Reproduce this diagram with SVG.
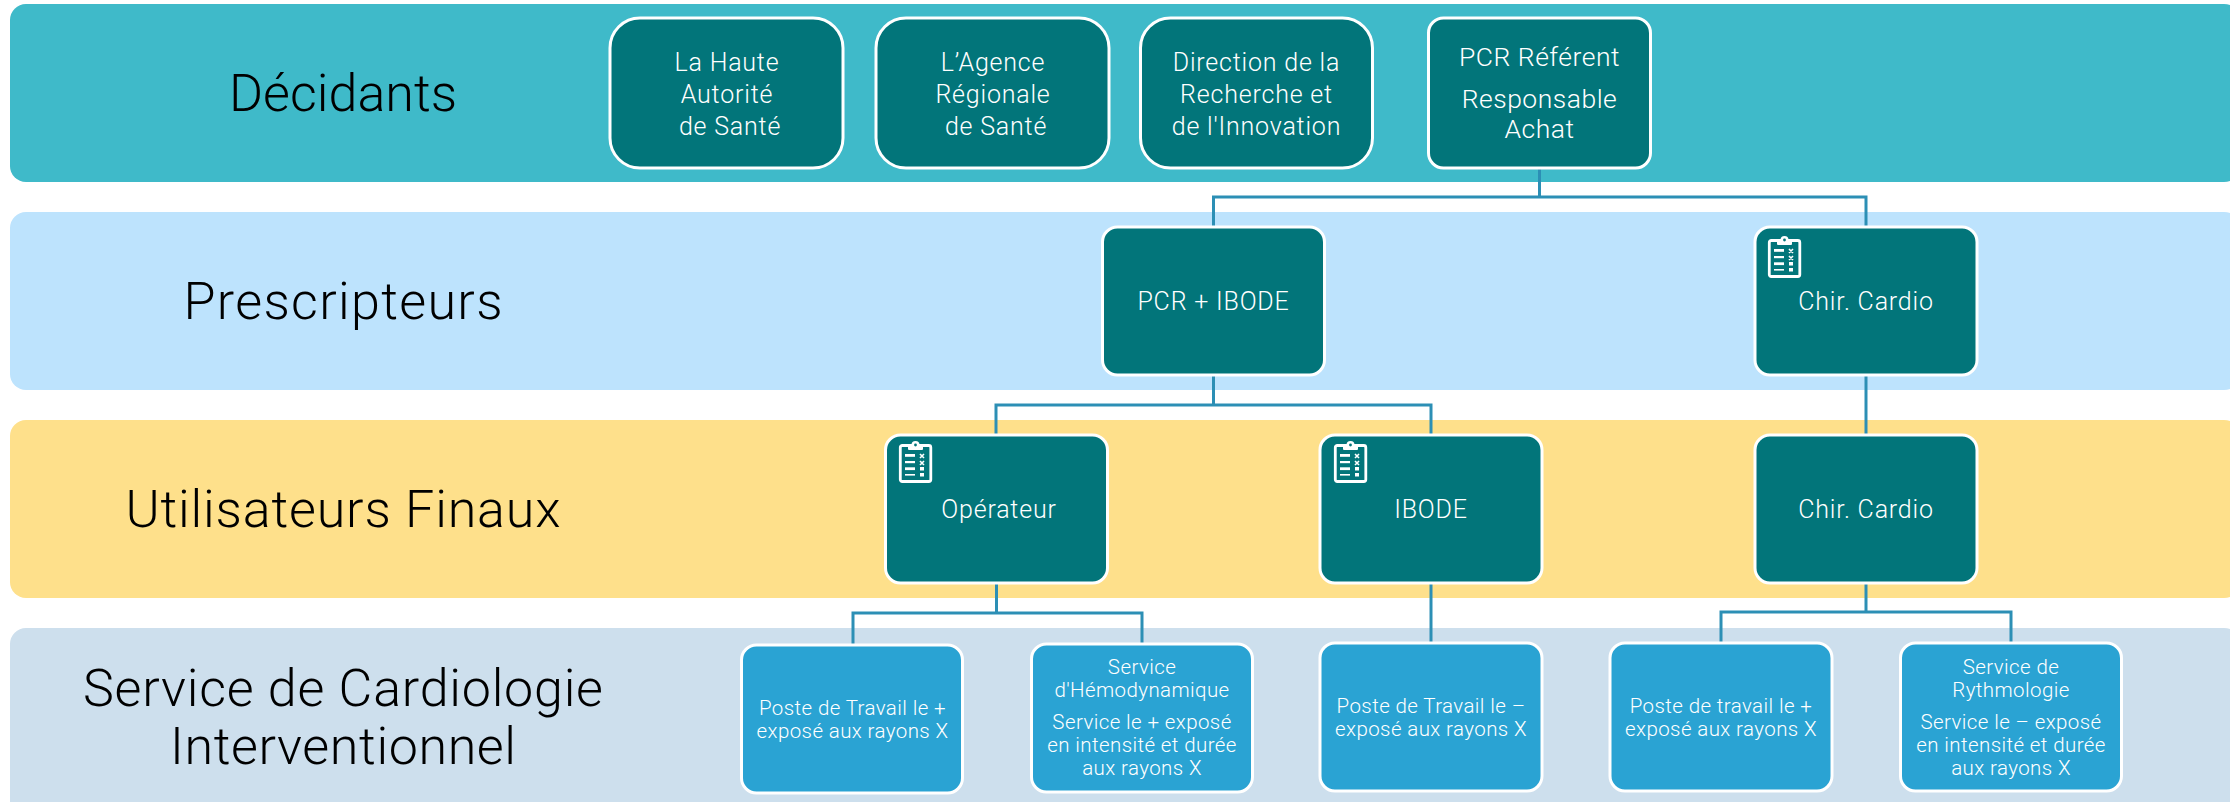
<svg xmlns="http://www.w3.org/2000/svg" width="2230" height="802" viewBox="0 0 2230 802">
<style>
text{font-family:"Roboto","Liberation Sans",sans-serif;font-weight:300;text-anchor:middle}
.t{font-size:52px;fill:#000}
.m{font-size:25px;letter-spacing:.8px;fill:#fff}
.l{font-size:26.5px;letter-spacing:.5px;fill:#fff}
.s{font-size:20.5px;letter-spacing:.4px;fill:#fff}
.n{fill:#02757a;stroke:#fff;stroke-width:3}
.b{fill:#2aa3d3;stroke:#fff;stroke-width:3}
.c{fill:none;stroke:#2c8fb5;stroke-width:3}
</style>
<defs>
<g id="icon">
<rect x="1.3" y="4.5" width="30.5" height="36" rx="2" fill="none" stroke="#fff" stroke-width="2.8"/>
<rect x="9" y="3" width="15" height="6" rx="1" fill="#fff"/>
<circle cx="16.5" cy="4" r="4" fill="#fff"/>
<circle cx="16.5" cy="4" r="1.4" fill="#02757a"/>
<g fill="#fff"><rect x="6" y="13" width="10" height="2.8"/><rect x="6" y="20" width="10" height="2.2"/><rect x="6" y="26.3" width="10" height="2.8"/><rect x="6" y="33" width="10" height="1.6"/><rect x="21" y="26" width="4" height="3.5"/><rect x="21" y="32" width="4" height="3.5"/></g>
<path d="M21 13l4 4M25 13l-4 4M21 20l4 4M25 20l-4 4" stroke="#fff" stroke-width="1.6" fill="none"/>
</g>
</defs>
<rect width="2230" height="802" fill="#fff"/>
<g id="bands">
<rect x="10" y="4" width="2230" height="178" rx="16" fill="#3fbac9"/>
<rect x="10" y="212" width="2230" height="178" rx="16" fill="#bde3fd"/>
<rect x="10" y="420" width="2230" height="178" rx="16" fill="#fee08b"/>
<rect x="10" y="628" width="2230" height="190" rx="16" fill="#cddfed"/>
</g>
<g id="band-labels">
<text class="t" x="343" y="111" textLength="228">Décidants</text>
<text class="t" x="343" y="319" textLength="319">Prescripteurs</text>
<text class="t" x="343" y="527" textLength="435">Utilisateurs Finaux</text>
<text class="t" x="343" y="706" textLength="520">Service de Cardiologie</text>
<text class="t" x="343" y="764" textLength="346">Interventionnel</text>
</g>
<g id="connectors" class="c">
<path class="c" d="M1539.5 168V197M1213.5 227V197H1866V227"/>
<path class="c" d="M1213.5 375V405M996 434V405H1431V434"/>
<path class="c" d="M1866 375V434"/>
<path class="c" d="M996.5 583V613M853 644V613H1142V643"/>
<path class="c" d="M1431 583V643"/>
<path class="c" d="M1866 583V612M1721 643V612H2011V643"/>
</g>
<g id="haute"><rect class="n" x="610" y="18" width="233" height="150" rx="30"/>
<text class="m" x="727" y="71">La Haute</text><text class="m" x="727" y="103">Autorité</text><text class="m" x="730" y="135">de Santé</text></g>
<g id="ars"><rect class="n" x="876" y="18" width="233" height="150" rx="30"/>
<text class="m" x="993" y="71">L’Agence</text><text class="m" x="993" y="103">Régionale</text><text class="m" x="996" y="135">de Santé</text></g>
<g id="direction"><rect class="n" x="1140.5" y="18" width="232" height="150" rx="30"/>
<text class="m" x="1256.5" y="71">Direction de la</text><text class="m" x="1256.5" y="103">Recherche et</text><text class="m" x="1256.5" y="135">de l'Innovation</text></g>
<g id="pcr-referent"><rect class="n" x="1428.5" y="18" width="222" height="150" rx="15"/>
<text class="l" x="1539.5" y="66">PCR Référent</text><text class="l" x="1539.5" y="108">Responsable</text><text class="l" x="1539.5" y="138">Achat</text></g>
<g id="pcr-ibode"><rect class="n" x="1102.5" y="227" width="222" height="148" rx="15"/>
<text class="m" x="1213.5" y="310">PCR + IBODE</text></g>
<g id="chir-prescripteur"><rect class="n" x="1755" y="227" width="222" height="148" rx="15"/>
<use href="#icon" x="1768" y="236"/>
<text class="m" x="1866" y="310">Chir. Cardio</text></g>
<g id="operateur"><rect class="n" x="885.5" y="435" width="222" height="148" rx="15"/>
<use href="#icon" x="899" y="441"/>
<text class="m" x="999" y="518">Opérateur</text></g>
<g id="ibode"><rect class="n" x="1320" y="435" width="222" height="148" rx="15"/>
<use href="#icon" x="1334" y="441"/>
<text class="m" x="1431" y="518">IBODE</text></g>
<g id="chir-utilisateur"><rect class="n" x="1755" y="435" width="222" height="148" rx="15"/>
<text class="m" x="1866" y="518">Chir. Cardio</text></g>
<g id="poste-1"><rect class="b" x="741.5" y="645" width="221" height="148" rx="15"/>
<text class="s" x="852.5" y="715">Poste de Travail le +</text><text class="s" x="852.5" y="738">exposé aux rayons X</text></g>
<g id="hemodynamique"><rect class="b" x="1031.5" y="644" width="221" height="148" rx="15"/>
<text class="s" x="1142" y="674">Service</text><text class="s" x="1142" y="697">d'Hémodynamique</text><text class="s" x="1142" y="729">Service le + exposé</text><text class="s" x="1142" y="752">en intensité et durée</text><text class="s" x="1142" y="775">aux rayons X</text></g>
<g id="poste-2"><rect class="b" x="1320" y="643" width="222" height="148" rx="15"/>
<text class="s" x="1431" y="713">Poste de Travail le –</text><text class="s" x="1431" y="736">exposé aux rayons X</text></g>
<g id="poste-3"><rect class="b" x="1610" y="643" width="222" height="148" rx="15"/>
<text class="s" x="1721" y="713">Poste de travail le +</text><text class="s" x="1721" y="736">exposé aux rayons X</text></g>
<g id="rythmologie"><rect class="b" x="1900.5" y="643" width="221" height="148" rx="15"/>
<text class="s" x="2011" y="674">Service de</text><text class="s" x="2011" y="697">Rythmologie</text><text class="s" x="2011" y="729">Service le – exposé</text><text class="s" x="2011" y="752">en intensité et durée</text><text class="s" x="2011" y="775">aux rayons X</text></g>
</svg>
